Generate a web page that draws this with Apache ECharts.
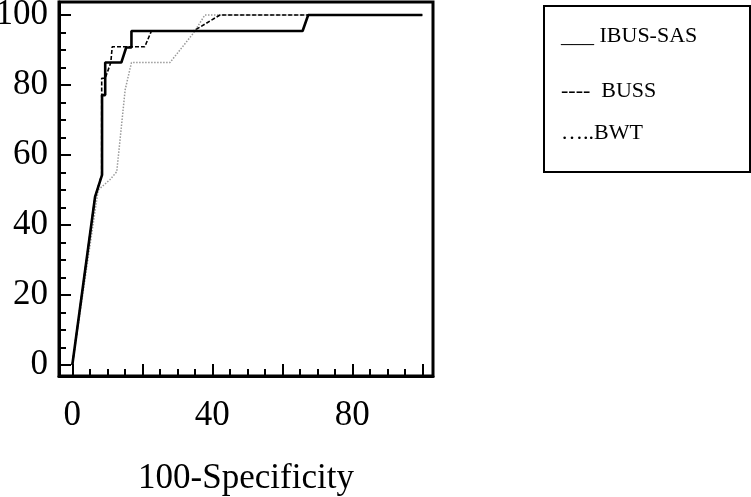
<!DOCTYPE html>
<html>
<head>
<meta charset="utf-8">
<script src="https://cdn.jsdelivr.net/npm/echarts@6/dist/echarts.min.js"></script>
<style>html,body{margin:0;padding:0;background:#fff;}#c{width:751px;height:497px;}</style>
</head>
<body>
<div id="c"></div>
<script>
// Series names
const seriesNames = ['IBUS-SAS', 'BUSS', 'BWT'];
const legendTexts = ['___ IBUS-SAS', '----  BUSS', '\u2026..BWT'];

// IBUS-SAS (solid)
const ibusX = [0, 6.5, 8.5, 8.5, 9.4, 9.4, 14.0, 15.4, 16.9, 16.9, 65.8, 67.4, 100];
const ibusY = [0, 48, 54.3, 77.1, 77.1, 86.4, 86.4, 90.7, 90.7, 95.4, 95.4, 100, 100];

// BUSS (dashed)
const bussX = [0, 6.5, 8.4, 8.4, 9.4, 11.0, 11.4, 11.4, 20.7, 22.6, 34.6, 42.2, 100];
const bussY = [0, 48, 54.3, 81.9, 81.9, 86.4, 86.4, 90.9, 90.9, 95.4, 95.4, 100, 100];

// BWT (dotted)
const bwtX = [0, 7.4, 10.8, 12.7, 15.1, 16.9, 27.9, 34.6, 37.9, 100];
const bwtY = [0, 50, 53, 55.2, 78.6, 86.4, 86.4, 94.8, 100, 100];

// Ticks and tick labels
const xMajorTicks = [0, 20, 40, 60, 80, 100];
const xMinorTicks = [5, 10, 15, 25, 30, 35, 45, 50, 55, 65, 70, 75, 85, 90, 95];
const xTickLabels = [0, 40, 80];
const yMajorTicks = [0, 20, 40, 60, 80, 100];
const yMinorTicks = [5, 10, 15, 25, 30, 35, 45, 50, 55, 65, 70, 75, 85, 90, 95];
const yTickLabels = [0, 20, 40, 60, 80, 100];
const xAxisName = '100-Specificity';

const zip = (xs, ys) => xs.map((x, i) => [x, ys[i]]);

const font = 'Liberation Serif';
const X_MIN = -3.8, X_MAX = 103.06, Y_MIN = -3.15, Y_MAX = 103.7;
const chart = echarts.init(document.getElementById('c'), null, {renderer: 'canvas'});

const tickStyle = {color: '#000', width: 2};
const option = {
  backgroundColor: '#fff',
  animation: false,
  grid: [
    {left: 59, top: 2, width: 374, height: 374, show: true, borderColor: '#000', borderWidth: 3,
     backgroundColor: 'transparent', containLabel: false, outerBoundsMode: 'none'}
  ],
  xAxis: [
    {
      type: 'value', min: X_MIN, max: X_MAX, position: 'bottom',
      axisLine: {show: true, onZero: false, lineStyle: {color: '#000', width: 3}},
      axisTick: {show: true, inside: true, length: 12, lineStyle: tickStyle, customValues: xMajorTicks},
      splitLine: {show: false},
      axisLabel: {
        margin: 22, color: '#000', fontSize: 35, fontFamily: font,
        customValues: xTickLabels
      },
      name: xAxisName, nameLocation: 'middle', nameGap: 85,
      nameTextStyle: {color: '#000', fontSize: 35, fontFamily: font}
    },
    {
      type: 'value', min: X_MIN, max: X_MAX, position: 'bottom',
      axisLine: {show: false, onZero: false},
      axisTick: {show: true, inside: true, length: 7, lineStyle: tickStyle, customValues: xMinorTicks},
      splitLine: {show: false},
      axisLabel: {show: false}
    }
  ],
  yAxis: [
    {
      type: 'value', min: Y_MIN, max: Y_MAX, position: 'left',
      axisLine: {show: true, onZero: false, lineStyle: {color: '#000', width: 3}},
      axisTick: {show: true, inside: true, length: 12, lineStyle: tickStyle, customValues: yMajorTicks},
      splitLine: {show: false},
      axisLabel: {
        margin: 11, color: '#000', fontSize: 35, fontFamily: font,
        customValues: yTickLabels
      }
    },
    {
      type: 'value', min: Y_MIN, max: Y_MAX, position: 'left',
      axisLine: {show: false, onZero: false},
      axisTick: {show: true, inside: true, length: 7, lineStyle: tickStyle, customValues: yMinorTicks},
      splitLine: {show: false},
      axisLabel: {show: false}
    }
  ],
  series: [
    {
      name: seriesNames[2], type: 'line', xAxisIndex: 0, yAxisIndex: 0,
      data: zip(bwtX, bwtY), showSymbol: false, symbol: 'none',
      lineStyle: {color: '#999', width: 1.5, type: [1.5, 1.5]}, z: 2
    },
    {
      name: seriesNames[1], type: 'line', xAxisIndex: 0, yAxisIndex: 0,
      data: zip(bussX, bussY), showSymbol: false, symbol: 'none',
      lineStyle: {color: '#000', width: 1.6, type: [4, 2]}, z: 3
    },
    {
      name: seriesNames[0], type: 'line', xAxisIndex: 0, yAxisIndex: 0,
      data: zip(ibusX, ibusY), showSymbol: false, symbol: 'none',
      lineStyle: {color: '#000', width: 2.6}, z: 4
    }
  ],
  graphic: [
    {
      type: 'rect', left: 543, top: 5, shape: {width: 206, height: 166},
      style: {fill: '#fff', stroke: '#000', lineWidth: 2}
    },
    {
      type: 'text', left: 561, top: 25,
      style: {text: legendTexts[0], font: '22px "Liberation Serif"', fill: '#000'}
    },
    {
      type: 'text', left: 561, top: 80,
      style: {text: legendTexts[1], font: '22px "Liberation Serif"', fill: '#000'}
    },
    {
      type: 'text', left: 561, top: 122,
      style: {text: legendTexts[2], font: '22px "Liberation Serif"', fill: '#000'}
    }
  ]
};
chart.setOption(option);
</script>
</body>
</html>
